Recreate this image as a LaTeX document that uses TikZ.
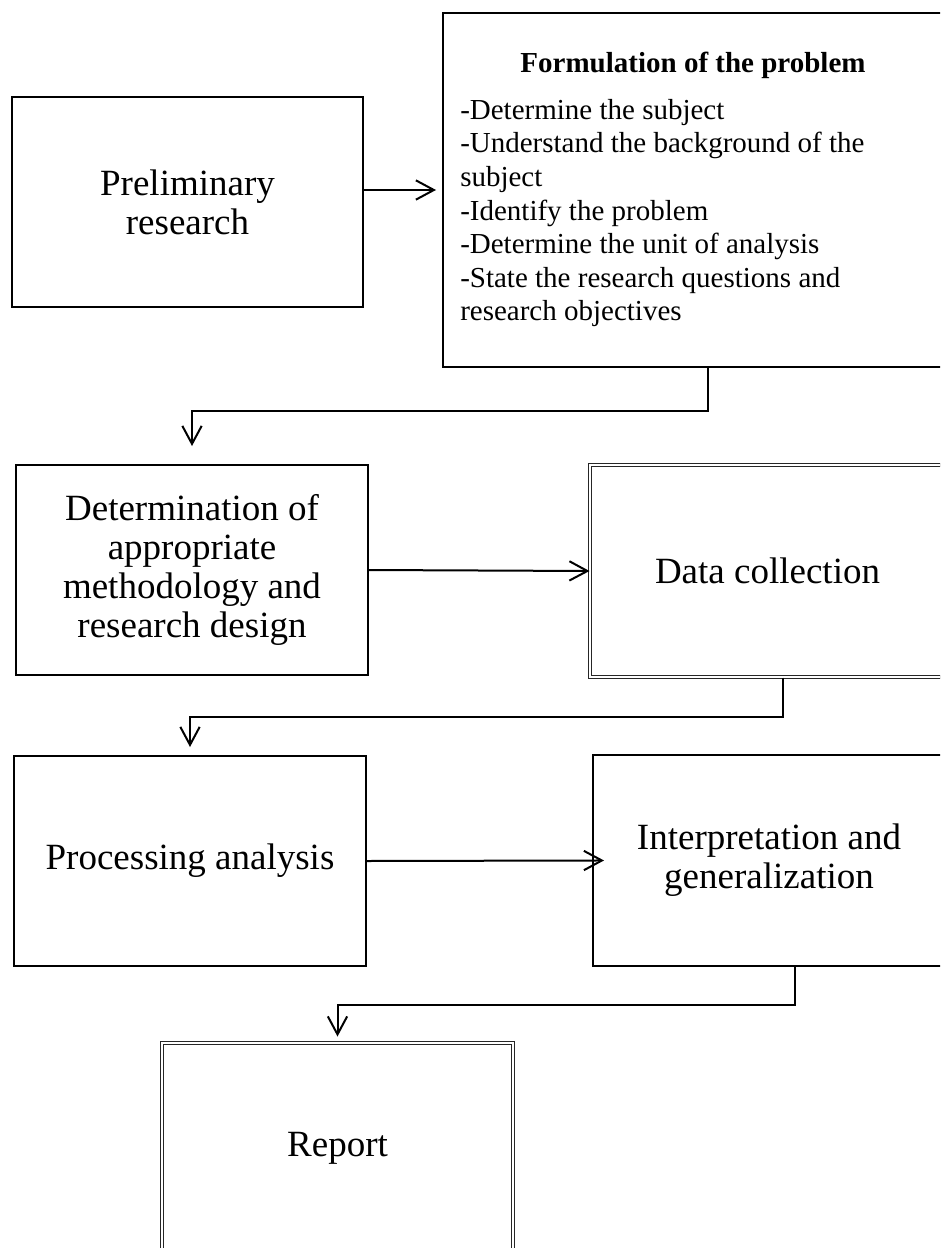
\documentclass[tikz,border=0pt]{standalone}
\usepackage{fontspec}
\setmainfont{Liberation Serif}
\usetikzlibrary{arrows.meta}
\begin{document}
\begin{tikzpicture}[x=0.75pt,y=-0.75pt,
  box/.style={draw=black, line width=1.5pt, inner sep=0pt, align=center,
    font=\fontsize{27.75pt}{29.25pt}\selectfont},
  dbox/.style={box, draw=black!85, line width=0.75pt, double, double distance=1.5pt},
  listtext/.style={inner sep=0pt, align=left, font=\fontsize{21.75pt}{25.2pt}\selectfont},
  arr/.style={line width=1.5pt, -{Straight Barb[length=13.5pt,width=14.5pt]}}]
\useasboundingbox (0,0) rectangle (940,1248);
\clip (0,0) rectangle (940,1248);

% boxes
\node[box, minimum width=263.25pt, minimum height=157.5pt] (prelim) at (187.5,202) {Preliminary\\research};
\node[box, minimum width=375pt, minimum height=265.5pt] (form) at (693,190) {};
\node[inner sep=0pt, anchor=base, font=\fontsize{21.75pt}{25pt}\selectfont\bfseries] (ftitle) at (693,73) {Formulation of the problem};
\node[listtext, anchor=north west] (flist) at (460,99) {-Determine the subject\\-Understand the background of the\\subject\\-Identify the problem\\-Determine the unit of analysis\\-State the research questions and\\research objectives};
\node[box, minimum width=264pt, minimum height=157.5pt] (determ) at (192,570) {Determination of\\appropriate\\methodology and\\research design};
\node[dbox, minimum width=266.25pt, minimum height=159pt] (data) at (767.5,571) {Data collection};
\node[box, minimum width=264pt, minimum height=157.5pt] (proc) at (190,861) {Processing analysis};
\node[box, minimum width=264pt, minimum height=158.25pt] (interp) at (769,860.5) {Interpretation and\\generalization};
\node[dbox, minimum width=263.25pt, minimum height=157.5pt] (report) at (337.5,1148) {Report};

% bend points of the connectors
\coordinate (c1) at (708,411);
\coordinate (c2) at (783,717);
\coordinate (c3) at (795,1005);

% connectors
\draw[arr, shorten >=4.5pt] (prelim.east |- form.west) -- (form.west);
\draw[arr, shorten >=13.5pt] (form.south -| c1) -- (c1) -| (determ.north);
\draw[arr] (determ.east) -- (data.west);
\draw[arr, shorten >=6pt] (data.south -| c2) -- (c2) -| (proc.north);
\draw[arr, shorten >=-9pt] (proc.east) -- (interp.west);
\draw[arr, shorten >=4.5pt] (interp.south -| c3) -- (c3) -| (report.north);
\end{tikzpicture}
\end{document}
